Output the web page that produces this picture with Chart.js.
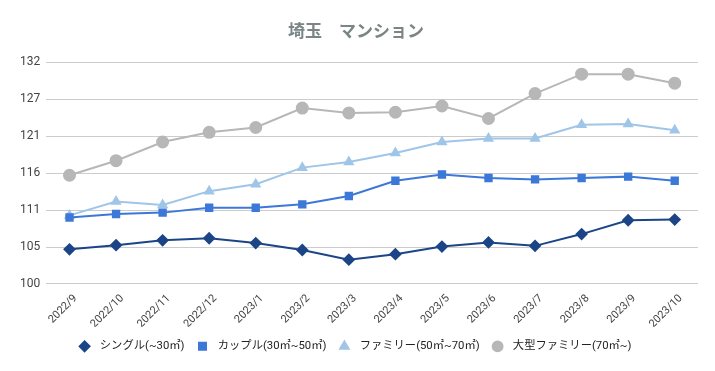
<!DOCTYPE html>
<html>
<head>
<meta charset="utf-8">
<script src="https://cdn.jsdelivr.net/npm/chart.js@4"></script>
<style>
html,body{margin:0;padding:0;background:#fff;}
#wrap{width:715px;height:371px;position:relative;}
</style>
</head>
<body>
<div id="wrap"><canvas id="c" width="715" height="371"></canvas></div>
<script>
const categories = ["2022/9","2022/10","2022/11","2022/12","2023/1","2023/2","2023/3","2023/4","2023/5","2023/6","2023/7","2023/8","2023/9","2023/10"];
const single = [105.0,105.6,106.3,106.6,105.9,104.9,103.5,104.3,105.4,106.0,105.5,107.2,109.2,109.3];
const couple = [109.6,110.1,110.3,111.0,111.0,111.5,112.7,114.9,115.8,115.3,115.1,115.3,115.5,114.9];
const family = [109.9,111.9,111.4,113.4,114.4,116.8,117.6,118.9,120.5,121.0,121.0,123.0,123.1,122.2];
const large = [115.7,117.8,120.5,121.9,122.6,125.4,124.7,124.8,125.7,123.9,127.5,130.3,130.3,129.0];
const seriesNames = ["シングル(~30㎡)","カップル(30㎡~50㎡)","ファミリー(50㎡~70㎡)","大型ファミリー(70㎡~)"];
const yTickLabels = ["100","105","111","116","121","127","132"];
const yMin = 100, yMax = 132;

const FONT = 'Roboto, "Noto Sans CJK JP", sans-serif';

function ds(label, data, color, style, r){
  return {label, data, borderColor: color, backgroundColor: color, pointBackgroundColor: color,
    pointBorderColor: color, pointStyle: style, pointRadius: r, pointHoverRadius: r, borderWidth: 2, tension: 0};
}

new Chart(document.getElementById('c'), {
  type: 'line',
  data: {
    labels: categories,
    datasets: [
      ds(seriesNames[0], single, '#1c4587', 'rectRot', 5),
      ds(seriesNames[1], couple, '#3c78d8', 'rect', 4.5),
      ds(seriesNames[2], family, '#9fc5e8', 'triangle', 4.5),
      ds(seriesNames[3], large, '#b7b7b7', 'circle', 5.5)
    ]
  },
  options: {
    responsive: false,
    animation: false,
    layout: {padding: {left: 14, right: 17, top: 0, bottom: 9}},
    plugins: {
      title: {display: true, text: '埼玉　マンション', color: '#7b8585',
        font: {family: FONT, size: 17, weight: 'bold'}, padding: {top: 23, bottom: 19}},
      legend: {position: 'bottom',
        labels: {usePointStyle: true, boxWidth: 8, boxHeight: 7, padding: 14, color: '#222',
          font: {family: FONT, size: 11.3},
          generateLabels: (chart) => Chart.defaults.plugins.legend.labels.generateLabels(chart)
            .map(l => Object.assign(l, {text: '  ' + l.text}))}},
      tooltip: {enabled: false}
    },
    scales: {
      x: {
        offset: true,
        grid: {display: false, drawTicks: false},
        border: {display: false},
        afterFit: (s) => { s.height -= 12; },
        ticks: {color: '#444', font: {family: FONT, size: 11}, maxRotation: 45, minRotation: 45, autoSkip: false, padding: 8, labelOffset: 6}
      },
      y: {
        min: yMin, max: yMax,
        border: {display: false},
        grid: {color: '#cccccc', drawTicks: false},
        afterBuildTicks: (scale) => {
          scale.ticks = yTickLabels.map((t, i) => ({value: yMin + i * (yMax - yMin) / (yTickLabels.length - 1)}));
        },
        ticks: {color: '#444', font: {family: FONT, size: 12}, padding: 6,
          callback: (v, i) => yTickLabels[i]}
      }
    }
  }
});
</script>
</body>
</html>
